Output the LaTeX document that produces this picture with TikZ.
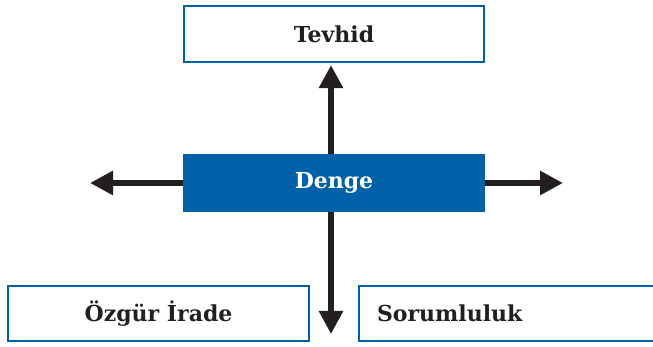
\documentclass[tikz,border=0pt]{standalone}
\usepackage{fontspec}
\setmainfont{DejaVu Serif}
\usetikzlibrary{arrows.meta}
\definecolor{boxblue}{RGB}{0,97,168}
\definecolor{arrowdark}{RGB}{35,31,32}
\begin{document}
\begin{tikzpicture}[x=1pt,y=1pt]
	\tikzstyle{Box} = [rectangle, minimum width=300pt, minimum height=56pt, inner sep=0pt, text centered, draw=boxblue, line width=2.2pt, fill=white, text=arrowdark, font=\bfseries\fontsize{22}{26}\selectfont]
	\tikzstyle{Center} = [rectangle, minimum width=302pt, minimum height=58pt, inner sep=0pt, text centered, fill=boxblue, text=white, font=\bfseries\fontsize{22}{26}\selectfont]
	\tikzstyle{arrow} = [draw=arrowdark, line width=6.5pt, -{Triangle[length=23pt,width=23pt]}]
	
	\useasboundingbox (0,0) rectangle (653,347);
	
	\node (denge) [Center] at (334,164) {Denge};
	\node (tevhid) [Box] at (334,313) {Tevhid};
	\node (ozgur) [Box, minimum width=301pt, minimum height=55pt] at (158.5,33.5) {Özgür İrade};
	\node (sorumluluk) [Box, minimum height=55pt, text width=266pt, inner xsep=18pt, align=left] at (510,33.5) {Sorumluluk};
	
	\coordinate (lefttip) at (90,164);
	\coordinate (righttip) at (563,164);
	\coordinate (downtip) at (331,13);
	
	\draw [arrow] ([xshift=-3pt]denge.north) -- ([xshift=-3pt, yshift=-2pt]tevhid.south);
	\draw [arrow] ([xshift=-3pt]denge.south) -- (downtip);
	\draw [arrow] (denge.west) -- (lefttip);
	\draw [arrow] (denge.east) -- (righttip);
\end{tikzpicture}
\end{document}
